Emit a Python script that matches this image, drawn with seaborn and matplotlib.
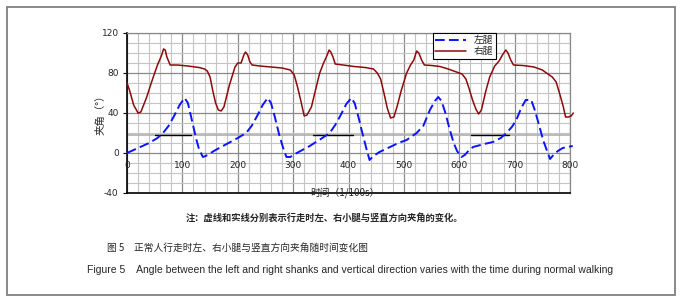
import numpy as np
import pandas as pd
import seaborn as sns
import matplotlib.pyplot as plt
from matplotlib.patches import Rectangle
from matplotlib.ticker import MultipleLocator

sns.set_style("white")
plt.rcParams['font.family'] = ['Noto Sans CJK SC', 'DejaVu Sans']

# right shank (solid dark red)
right_t = [0, 5, 12, 20, 25, 35, 45, 55, 62, 66, 69, 72, 75, 78, 90, 110, 130, 140, 145, 150,
           155, 160, 165, 170, 175, 185, 195, 200, 206, 211, 214, 218, 222, 226, 240, 260, 280, 295,
           302, 308, 314, 320, 325, 333, 340, 348, 355, 360, 365, 368, 372, 376, 390, 410, 430, 445,
           452, 458, 464, 470, 476, 482, 488, 495, 505, 512, 518, 523, 527, 532, 537, 550, 565, 580,
           595, 605, 612, 618, 624, 630, 635, 640, 648, 655, 664, 672, 678, 684, 688, 693, 698, 715,
           735, 750, 760, 768, 775, 782, 788, 792, 797, 802, 806]
right_angle = [70, 62, 48, 40, 41, 55, 72, 88, 97, 104, 103, 96, 92, 88, 88, 87, 85.5, 84, 82, 76,
               62, 50, 43, 42, 46, 68, 86, 90, 90, 98, 101, 98, 91, 88, 87, 86, 85, 83,
               78, 66, 52, 37, 38, 46, 62, 80, 90, 96, 103, 101, 96, 89, 88, 86.5, 85.5, 84,
               80, 74, 60, 45, 35, 36, 47, 62, 80, 88, 93, 102, 100, 93, 88, 87.5, 86.5, 84,
               81, 79, 74, 64, 53, 44, 39, 43, 62, 76, 87, 92, 98, 103, 100, 93, 88, 87.5,
               86, 83, 79, 76, 71, 58, 46, 36, 36, 37, 40]

# left shank (dashed blue)
left_t = [0, 20, 40, 55, 65, 75, 85, 95, 104, 110, 115, 120, 125, 130, 137, 142, 148, 160, 180, 200,
          215, 225, 235, 245, 254, 260, 267, 275, 282, 288, 295, 300, 310, 330, 350, 366, 376, 386,
          396, 405, 411, 418, 425, 432, 438, 445, 456, 475, 490, 505, 523, 535, 547, 556, 562, 568,
          575, 583, 590, 596, 604, 610, 618, 625, 645, 661, 675, 685, 695, 703, 712, 720, 730, 737,
          745, 752, 760, 764, 770, 778, 787, 795, 805]
left_angle = [0, 5, 10, 15, 20, 27, 37, 48, 55, 50, 38, 26, 14, 4, -4, -3, -1, 3, 9, 15,
              20, 27, 37, 48, 55, 50, 36, 18, 5, -4, -4, -2, 1, 7, 14, 20, 28, 38,
              49, 55, 50, 36, 20, 5, -7, -3, 1, 6, 10, 13, 20, 27, 43, 52, 56, 52,
              40, 23, 10, 2, -4, -2, 3, 6, 9, 11, 15, 20, 26, 33, 45, 53, 53, 42,
              26, 12, 0, -6, -2, 2, 5, 6, 7]

x_ticks = [0, 100, 200, 300, 400, 500, 600, 700, 800]
y_ticks = [-40, 0, 40, 80, 120]
ref_level = 18
ref_dark = [(50, 116), (336, 408), (622, 690)]

right_df = pd.DataFrame({'t': right_t, 'angle': right_angle})
left_df = pd.DataFrame({'t': left_t, 'angle': left_angle})

fig = plt.figure(figsize=(6.83, 3.05), dpi=100)
ax = fig.add_axes([127 / 683, 1 - 193 / 305, 443 / 683, 160 / 305])

# grid
ax.set_xlim(0, 800)
ax.set_ylim(-40, 120)
ax.xaxis.set_major_locator(MultipleLocator(100))
ax.xaxis.set_minor_locator(MultipleLocator(20))
ax.yaxis.set_major_locator(MultipleLocator(40))
ax.yaxis.set_minor_locator(MultipleLocator(10))
ax.grid(which='minor', color='#c4c4c4', lw=0.8)
ax.grid(which='major', color='#8a8a8a', lw=0.9)
ax.set_axisbelow(True)

# reference line
ax.axhline(ref_level, color='#a8a8a8', lw=1.1, zorder=2)
for a, b in ref_dark:
    ax.plot([a, b], [ref_level, ref_level], color='black', lw=1.0, zorder=2)

sns.lineplot(data=left_df, x='t', y='angle', ax=ax, color='#0a14ff', lw=1.4,
             label='左腿', zorder=4)
ax.lines[-1].set_dashes((5, 2.2))
ax.lines[-1].set_clip_on(False)
sns.lineplot(data=right_df, x='t', y='angle', ax=ax, color='#8c0a0a', lw=1.1,
             label='右腿', zorder=3)
ax.lines[-1].set_clip_on(False)

ax.set_xlabel('')
ax.set_ylabel('')
ax.set_xticks(x_ticks)
ax.set_xticklabels([])
ax.set_yticks(y_ticks)
ax.set_yticklabels([str(v) for v in y_ticks], fontsize=6.5, family='DejaVu Sans')
ax.tick_params(axis='y', which='major', left=True, length=3, width=0.8, pad=3, color='black')
ax.tick_params(axis='x', which='both', bottom=False)
ax.tick_params(which='minor', left=False, bottom=False)
for v in x_ticks:
    ax.text(v, -13, str(v), ha='center', va='center', fontsize=6.5, family='DejaVu Sans')

for s in ['left', 'bottom']:
    ax.spines[s].set_color('black')
    ax.spines[s].set_linewidth(1.2)
for s in ['top', 'right']:
    ax.spines[s].set_color('#8a8a8a')
    ax.spines[s].set_linewidth(0.9)

leg = ax.legend(loc='upper left', bbox_to_anchor=(0.69, 1.0), fontsize=7, frameon=True,
                fancybox=False, handlelength=3.2, borderpad=0.25, labelspacing=0.1,
                handletextpad=0.8, borderaxespad=0, framealpha=1)
leg.get_frame().set_edgecolor('black')
leg.get_frame().set_linewidth(0.8)
leg.set_zorder(6)

fig.text(100 / 683, 1 - 112 / 305, '夹角（°）', rotation=90, ha='center', va='center', fontsize=7.5)
fig.text(345 / 683, 1 - 193 / 305, '时间（1/100s）', ha='center', va='center', fontsize=7)

fig.text(324 / 683, 1 - 218 / 305, '注：虚线和实线分别表示行走时左、右小腿与竖直方向夹角的变化。',
         ha='center', va='center', fontsize=6.7, fontweight='bold')
fig.text(107 / 683, 1 - 248 / 305, '图 5　正常人行走时左、右小腿与竖直方向夹角随时间变化图',
         ha='left', va='center', fontsize=7)
fig.text(87 / 683, 1 - 270 / 305,
         'Figure 5    Angle between the left and right shanks and vertical direction varies with the time during normal walking',
         ha='left', va='center', fontsize=7.5, family='Liberation Sans')

fig.add_artist(Rectangle((7 / 683, 1 - 295 / 305), 668 / 683, 288 / 305, transform=fig.transFigure,
                         fill=False, edgecolor='#808080', lw=1.3))

fig.savefig('out.png', dpi=100)
